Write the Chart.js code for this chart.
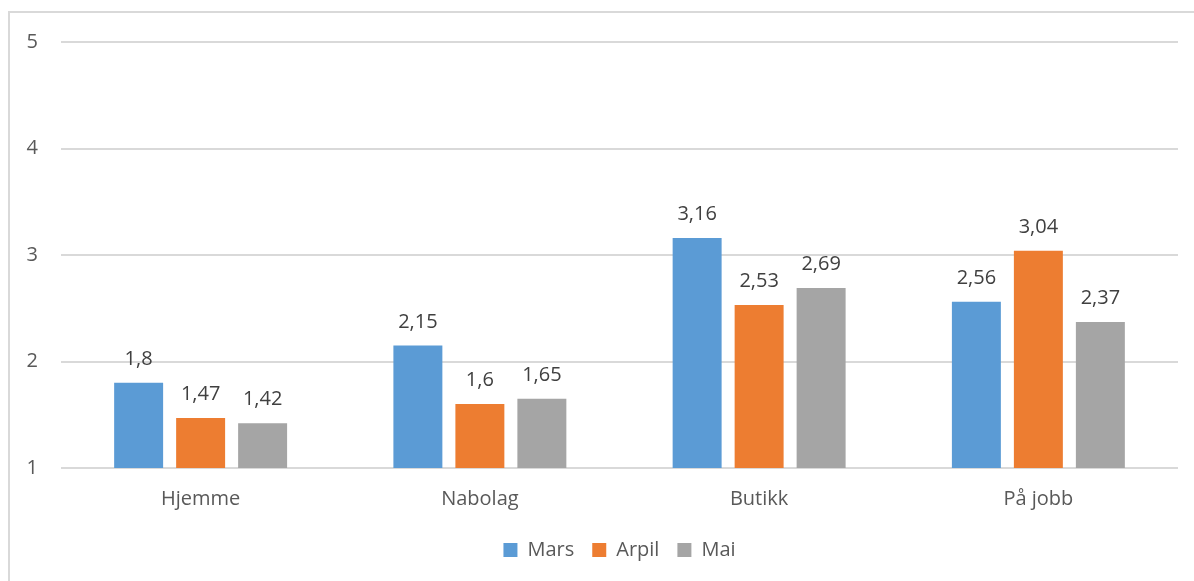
<!DOCTYPE html>
<html lang="no">
<head>
<meta charset="utf-8">
<title>Mars – Mai</title>
<script src="https://cdn.jsdelivr.net/npm/chart.js@4/dist/chart.umd.min.js"></script>
<style>
  html, body { margin: 0; padding: 0; background: #fff; overflow: hidden; }
  #frame {
    position: absolute; left: 8px; top: 11px;
    width: 1300px; height: 700px;
    border: 2px solid #d9d9d9;
  }
  #wrap { position: absolute; left: 0; top: 0; width: 1194px; height: 581px; }
</style>
</head>
<body>
<div id="frame"></div>
<div id="wrap"><canvas id="chart"></canvas></div>
<script>
const categories = ['Hjemme', 'Nabolag', 'Butikk', 'På jobb'];
const mars = [1.8, 2.15, 3.16, 2.56];
const arpil = [1.47, 1.6, 2.53, 3.04];
const mai = [1.42, 1.65, 2.69, 2.37];
const yTicks = [1, 2, 3, 4, 5];

const FONT = "'Open Sans', sans-serif";

function formatComma(v) {
  return String(v).replace('.', ',');
}

// verdiene over hver søyle
const valueLabels = {
  id: 'valueLabels',
  afterDatasetsDraw(chart) {
    const ctx = chart.ctx;
    ctx.save();
    ctx.font = `20px ${FONT}`;
    ctx.fillStyle = '#404040';
    ctx.textAlign = 'center';
    ctx.textBaseline = 'alphabetic';
    chart.data.datasets.forEach((ds, i) => {
      chart.getDatasetMeta(i).data.forEach((bar, j) => {
        ctx.fillText(formatComma(ds.data[j]), bar.x, bar.y - 18);
      });
    });
    ctx.restore();
  }
};

new Chart(document.getElementById('chart'), {
  type: 'bar',
  data: {
    labels: categories,
    datasets: [
      { label: 'Mars', data: mars, backgroundColor: '#5B9BD5' },
      { label: 'Arpil', data: arpil, backgroundColor: '#ED7D31' },
      { label: 'Mai', data: mai, backgroundColor: '#A5A5A5' }
    ]
  },
  options: {
    responsive: true,
    maintainAspectRatio: false,
    animation: false,
    datasets: {
      bar: { categoryPercentage: 0.666, barPercentage: 0.79 }
    },
    layout: { padding: { top: 42, right: 16, bottom: 11, left: 0 } },
    plugins: {
      legend: {
        position: 'bottom',
        fullSize: false,
        labels: {
          font: { family: FONT, size: 20 },
          color: '#595959',
          boxWidth: 14,
          boxHeight: 14,
          padding: 18
        }
      },
      tooltip: { enabled: false }
    },
    scales: {
      x: {
        grid: { display: false },
        border: { display: false },
        ticks: { font: { family: FONT, size: 20 }, color: '#595959', padding: 11 }
      },
      y: {
        min: 1,
        max: 5,
        afterBuildTicks: s => { s.ticks = yTicks.map(v => ({ value: v })); },
        afterFit: s => { s.width = 61; },
        grid: { color: '#d9d9d9', lineWidth: 2, drawTicks: false },
        border: { display: false },
        ticks: { font: { family: FONT, size: 20 }, color: '#595959', padding: 23 }
      }
    }
  },
  plugins: [valueLabels]
});
</script>
</body>
</html>
